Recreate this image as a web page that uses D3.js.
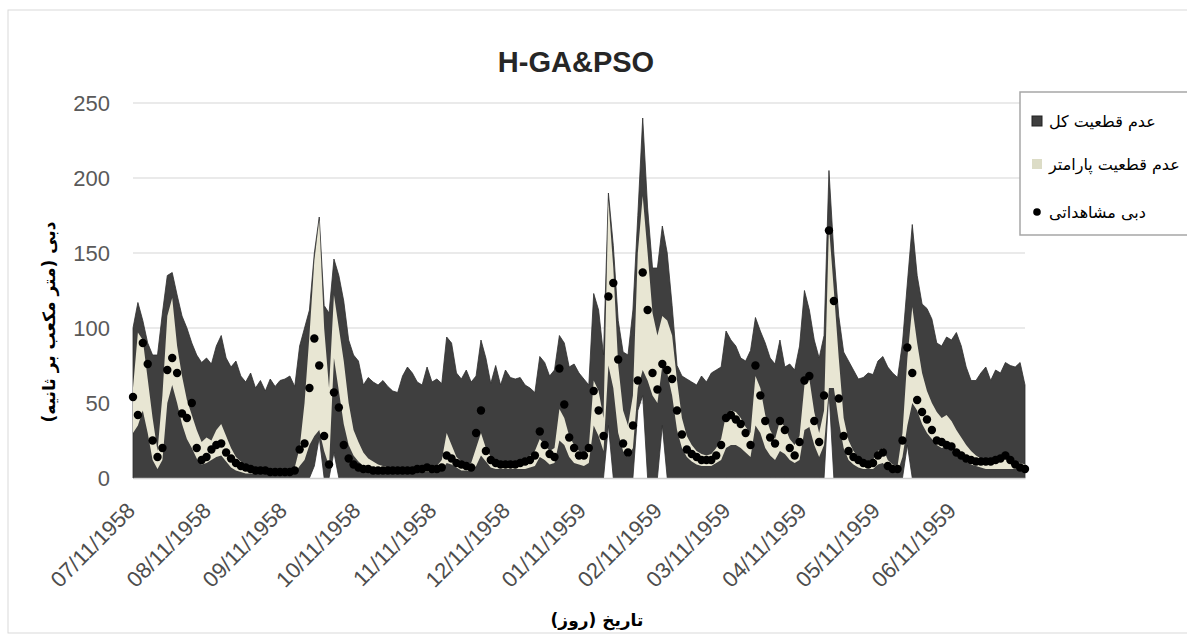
<!DOCTYPE html>
<html>
<head>
<meta charset="utf-8">
<script src="https://cdn.jsdelivr.net/npm/d3@7"></script>
<style>
  body { margin: 0; background: #fff; }
  svg { display: block; }
</style>
</head>
<body>
<div id="chart"></div>
<script>
// values every 2 days starting 07/11/1958 (m3/s)
var startDay = "07/11/1958";
var stepDays = 2;

var totUp = [100,117,105,90,82,82,110,135,137,122, 108,100,90,82,77,80,76,88,95,80,
  74,78,68,64,70,60,65,58,66,61, 65,66,68,61,88,100,112,150,174,115,
  110,146,135,118,92,82,78,62,67,64, 62,65,61,58,57,68,74,70,64,62,
  74,64,66,63,94,90,70,66,72,64, 68,92,80,63,75,62,72,67,66,67,
  62,60,57,81,77,68,72,95,90,74, 76,70,66,62,123,112,82,190,155,105,
  84,82,112,175,240,180,140,140,168,150, 115,75,68,66,64,62,68,64,70,72,
  74,98,92,88,80,78,85,107,98,90, 80,76,92,74,76,72,88,125,112,92,
  80,95,205,150,108,84,78,72,66,67, 70,69,78,81,74,70,67,90,130,169,
  135,116,113,106,90,88,94,92,97,88, 74,65,65,70,74,65,72,70,77,75,
  74,77,62];

var totLo = [0,0,0,0,0,0,0,0,0,0, 0,0,0,0,0,0,0,0,0,0,
  0,0,0,0,0,0,0,0,0,0, 0,0,0,0,0,0,0,8,27,0,
  0,17,0,0,0,0,0,0,0,0, 0,0,0,0,0,0,0,0,0,0,
  0,0,0,0,0,0,0,0,0,0, 0,0,0,0,0,0,0,0,0,0,
  0,0,0,0,0,0,0,0,0,0, 0,0,0,0,0,0,0,35,0,0,
  0,0,0,45,55,0,0,0,35,0, 0,0,0,0,0,0,0,0,0,0,
  0,0,0,0,0,0,0,0,0,0, 0,0,0,0,0,0,0,0,0,0,
  0,0,58,0,0,0,0,0,0,0, 0,0,0,0,0,0,0,0,22,0,
  0,0,0,0,0,0,0,0,0,0, 0,0,0,0,0,0,0,0,0,0,
  0,0,0];

var parUp = [60,97,92,66,40,18,55,108,120,88, 68,52,42,32,24,27,25,32,36,28,
  20,14,11,9,8,7,7,6,6,6, 6,6,6,7,20,50,95,145,172,100,
  60,122,100,78,50,32,24,17,13,11, 9,8,7,7,7,7,7,7,7,7,
  7,8,8,12,30,22,14,11,9,10, 20,30,20,14,11,10,10,10,10,12,
  13,15,18,26,22,18,20,46,40,28, 22,18,16,20,65,58,40,185,140,75,
  45,35,55,150,188,150,110,95,108,105, 95,65,40,28,22,18,16,15,16,20,
  26,42,45,44,40,34,30,68,60,42, 32,26,38,34,26,22,28,62,66,44,
  30,45,168,125,80,40,25,18,14,12, 11,12,18,20,12,9,8,30,80,114,
  90,70,58,50,44,40,42,38,32,27, 22,18,15,13,12,12,12,13,14,13,
  11,10,9];

var parLo = [30,35,45,30,12,6,12,50,62,50, 36,26,20,13,9,10,12,14,15,11,
  7,5,4,3,3,3,3,3,3,3, 3,3,3,3,8,12,22,28,32,18,
  8,80,58,36,22,15,11,8,6,5, 4,4,4,4,4,4,4,4,4,4,
  4,4,4,5,10,9,7,5,5,5, 8,15,11,7,6,6,6,6,6,6,
  6,7,8,14,12,9,10,25,22,14, 10,9,8,10,35,28,18,75,60,30,
  18,14,20,60,72,65,55,50,75,70, 55,32,20,14,11,9,8,8,8,10,
  12,20,22,22,20,17,14,35,30,20, 15,12,18,16,12,10,12,32,34,22,
  14,22,60,60,38,20,12,9,7,6, 6,6,9,10,6,5,4,14,35,50,
  45,36,30,26,22,20,21,19,16,13, 11,9,8,7,6,6,6,6,6,6,
  6,6,6];

var observed = [54,42,90,76,25,14,20,72,80,70, 43,40,50,20,12,14,19,22,23,17,
  13,10,8,7,6,5,5,5,4,4, 4,4,4,5,19,23,60,93,75,28,
  9,57,47,22,13,9,7,6,6,5, 5,5,5,5,5,5,5,5,6,6,
  7,6,6,7,15,13,10,9,8,7, 30,45,18,12,10,9,9,9,9,10,
  11,12,15,31,22,16,14,73,49,27, 20,15,15,20,58,45,28,121,130,79,
  23,17,35,65,137,112,70,59,76,72, 66,45,29,19,16,14,12,12,12,15,
  22,40,42,39,36,30,22,75,55,38, 27,23,38,32,20,15,24,65,68,38,
  24,55,165,118,53,28,18,14,12,10, 9,10,15,17,8,6,6,25,87,70,
  52,44,39,32,25,24,22,21,17,15, 13,12,11,11,11,11,12,13,15,12,
  9,7,6];

var tickLabels = ["07/11/1958","08/11/1958","09/11/1958","10/11/1958","11/11/1958","12/11/1958",
  "01/11/1959","02/11/1959","03/11/1959","04/11/1959","05/11/1959","06/11/1959"];
var yTicks = [0, 50, 100, 150, 200, 250];

var legendNames = ["عدم قطعیت کل", "عدم قطعیت پارامتر", "دبی مشاهداتی"];

var w = 1187, h = 641;
var darkColor = "#3f3f3f";
var beigeColor = "#e8e6d3";

var parseDate = d3.timeParse("%m/%d/%Y");
var fmtDate = d3.timeFormat("%m/%d/%Y");
var start = parseDate(startDay);

var data = totUp.map(function(v, i) {
  return {
    date: d3.timeDay.offset(start, i * stepDays),
    up: v, lo: totLo[i], pUp: parUp[i], pLo: parLo[i], obs: observed[i]
  };
});

var svg = d3.select("#chart").append("svg")
  .attr("width", w)
  .attr("height", h);

// outer chart border
svg.append("rect")
  .attr("x", 8).attr("y", 10)
  .attr("width", 1250).attr("height", 623)
  .attr("fill", "#fff")
  .attr("stroke", "#d9d9d9");

var x = d3.scaleTime()
  .domain([start, d3.timeDay.offset(start, 364)])
  .range([133, 1025]);
var y = d3.scaleLinear()
  .domain([0, 250])
  .range([478, 103]);

// gridlines
svg.append("g")
  .selectAll("line")
  .data(yTicks.slice(1))
  .enter().append("line")
  .attr("x1", 133).attr("x2", 1025)
  .attr("y1", function(d) { return y(d); })
  .attr("y2", function(d) { return y(d); })
  .attr("stroke", "#e3e3e3")
  .attr("stroke-width", 1.5);

// total uncertainty band
var totalArea = d3.area()
  .x(function(d) { return x(d.date); })
  .y0(function(d) { return y(d.lo); })
  .y1(function(d) { return y(d.up); });
svg.append("path")
  .datum(data)
  .attr("d", totalArea)
  .attr("fill", darkColor)
  .attr("stroke", "#2e2e2e")
  .attr("stroke-width", 0.8);

// parameter uncertainty band
var paramArea = d3.area()
  .x(function(d) { return x(d.date); })
  .y0(function(d) { return y(d.pLo); })
  .y1(function(d) { return y(d.pUp); });
svg.append("path")
  .datum(data)
  .attr("d", paramArea)
  .attr("fill", beigeColor);

// observed discharge
svg.append("g")
  .selectAll("circle")
  .data(data)
  .enter().append("circle")
  .attr("cx", function(d) { return x(d.date); })
  .attr("cy", function(d) { return y(d.obs); })
  .attr("r", 4.2)
  .attr("fill", "#000");

// axes
var yAxis = svg.append("g")
  .attr("transform", "translate(133,0)")
  .call(d3.axisLeft(y).tickValues(yTicks).tickSize(0).tickPadding(23));
yAxis.select(".domain").remove();
yAxis.selectAll("text")
  .attr("fill", "#595959")
  .style("font-family", "Liberation Sans, Arial, sans-serif")
  .style("font-size", "22px");

var xAxis = svg.append("g")
  .attr("transform", "translate(0,478)")
  .call(d3.axisBottom(x)
    .tickValues(tickLabels.map(parseDate))
    .tickFormat(fmtDate)
    .tickSize(0)
    .tickSizeOuter(0));
xAxis.select(".domain")
  .attr("stroke", "#d0d0d0")
  .attr("stroke-width", 1.5);
xAxis.selectAll("text")
  .attr("x", 0).attr("y", 0).attr("dy", 0)
  .attr("text-anchor", "end")
  .attr("transform", "translate(3,34) rotate(-45)")
  .attr("fill", "#4d4d4d")
  .style("font-family", "Liberation Sans, Arial, sans-serif")
  .style("font-size", "22px");

// title
svg.append("text")
  .attr("x", 576).attr("y", 72)
  .attr("text-anchor", "middle")
  .style("font-family", "Liberation Sans, Arial, sans-serif")
  .style("font-size", "29px")
  .style("font-weight", "bold")
  .attr("fill", "#262626")
  .text("H-GA&PSO");

// axis titles
svg.append("text")
  .attr("transform", "translate(55,322) rotate(-90)")
  .attr("text-anchor", "middle")
  .style("font-family", "DejaVu Sans, sans-serif")
  .style("font-size", "17px")
  .style("font-weight", "bold")
  .attr("fill", "#000")
  .text("دبی (متر مکعب بر ثانیه)");

svg.append("text")
  .attr("x", 597).attr("y", 626)
  .attr("text-anchor", "middle")
  .style("font-family", "DejaVu Sans, sans-serif")
  .style("font-size", "17px")
  .style("font-weight", "bold")
  .attr("fill", "#000")
  .text("تاریخ (روز)");

// legend
var legend = svg.append("g");
legend.append("rect")
  .attr("x", 1020).attr("y", 92)
  .attr("width", 200).attr("height", 143)
  .attr("fill", "#fff")
  .attr("stroke", "#a6a6a6")
  .attr("stroke-width", 1.5);

var legendY = [121, 164, 212];
var items = legend.selectAll("g.item")
  .data(legendNames)
  .enter().append("g")
  .attr("class", "item")
  .attr("transform", function(d, i) { return "translate(1032," + legendY[i] + ")"; });

items.each(function(d, i) {
  var g = d3.select(this);
  if (i < 2) {
    g.append("rect")
      .attr("x", 0).attr("y", -5)
      .attr("width", 10).attr("height", 10)
      .attr("fill", i == 0 ? darkColor : "#dcdcc6")
      .attr("stroke", i == 0 ? "#222" : "none");
  } else {
    g.append("circle")
      .attr("cx", 5).attr("cy", 0).attr("r", 3.8)
      .attr("fill", "#000");
  }
  g.append("text")
    .attr("x", 17).attr("y", 0).attr("dy", "0.35em")
    .style("font-family", "DejaVu Sans, sans-serif")
    .style("font-size", "16px")
    .attr("fill", "#000")
    .text(d);
});
</script>
</body>
</html>
